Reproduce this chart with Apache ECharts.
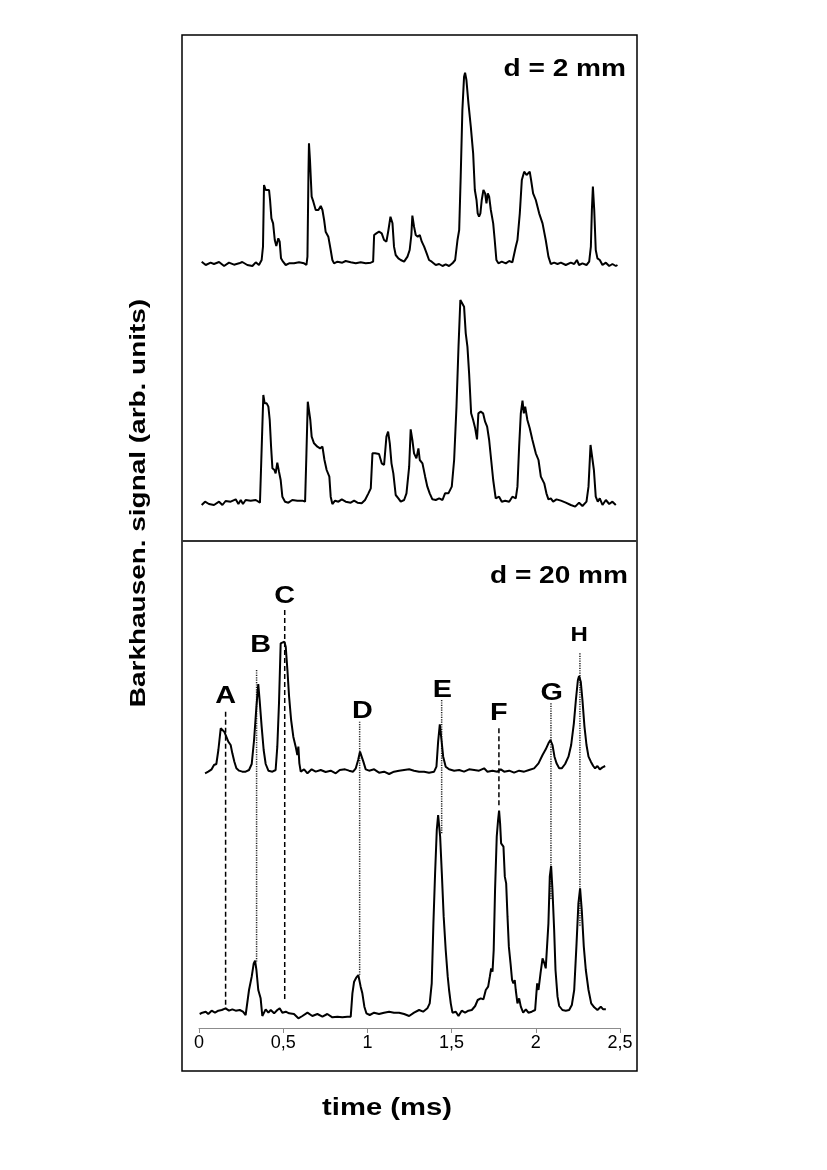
<!DOCTYPE html>
<html>
<head>
<meta charset="utf-8">
<script src="https://cdn.jsdelivr.net/npm/echarts@6/dist/echarts.min.js"></script>
<style>
  html, body { margin: 0; padding: 0; background: #fff; }
  #chart { width: 827px; height: 1170px; }
</style>
</head>
<body>
<div id="chart"></div>
<script>
// d = 2 mm, upper trace (time in ms, signal in arb. units)
const time1 = [0.016,0.040,0.069,0.089,0.119,0.149,0.178,0.208,0.238,0.257,0.287,0.317,0.337,0.356,0.372,0.380,0.386,0.396,0.406,0.416,0.422,0.430,0.440,0.450,0.459,0.471,0.479,0.487,0.499,0.515,0.535,0.564,0.594,0.624,0.638,0.644,0.650,0.653,0.659,0.669,0.679,0.693,0.709,0.723,0.733,0.743,0.752,0.768,0.782,0.792,0.802,0.822,0.851,0.871,0.901,0.931,0.960,0.990,1.020,1.034,1.040,1.053,1.069,1.085,1.099,1.113,1.125,1.137,1.149,1.158,1.168,1.184,1.198,1.218,1.238,1.251,1.261,1.267,1.277,1.287,1.299,1.311,1.323,1.337,1.352,1.366,1.382,1.406,1.426,1.446,1.465,1.485,1.505,1.521,1.535,1.545,1.554,1.564,1.574,1.580,1.588,1.600,1.614,1.628,1.638,1.648,1.655,1.663,1.671,1.679,1.689,1.699,1.707,1.715,1.723,1.733,1.747,1.756,1.766,1.778,1.798,1.822,1.842,1.861,1.881,1.891,1.905,1.917,1.931,1.945,1.956,1.964,1.972,1.984,2.000,2.020,2.040,2.059,2.075,2.089,2.109,2.129,2.149,2.178,2.208,2.228,2.244,2.257,2.277,2.301,2.317,2.327,2.333,2.339,2.347,2.356,2.366,2.380,2.396,2.416,2.436,2.455,2.475,2.485];
const signal1 = [5,-5,2,-2,4,-8,2,-4,0,4,-5,-8,3,-5,10,50,235,220,225,220,190,135,120,70,52,75,65,15,5,-5,0,0,3,0,-5,20,270,360,310,200,185,160,160,172,160,130,95,80,40,10,0,5,2,7,3,0,3,0,2,5,85,90,95,90,70,65,100,140,120,50,25,15,10,5,20,40,85,143,110,85,80,85,65,50,30,10,5,-5,-2,-8,-3,-8,0,10,70,100,260,460,560,572,550,480,410,330,220,190,150,140,150,190,220,210,180,210,200,160,120,70,10,0,5,0,7,3,50,70,150,250,275,265,265,275,250,210,190,150,120,70,20,-2,2,-2,2,-5,2,-2,10,-5,0,-5,5,50,160,230,160,40,15,10,-5,2,-8,-2,-8,-5];

// d = 2 mm, lower trace
const time2 = [0.016,0.036,0.059,0.089,0.119,0.139,0.158,0.188,0.218,0.234,0.248,0.261,0.277,0.307,0.337,0.362,0.370,0.382,0.390,0.402,0.412,0.420,0.428,0.436,0.448,0.455,0.465,0.475,0.485,0.495,0.511,0.531,0.554,0.584,0.614,0.630,0.638,0.646,0.653,0.661,0.669,0.683,0.703,0.719,0.733,0.745,0.758,0.774,0.782,0.792,0.808,0.828,0.848,0.871,0.901,0.921,0.941,0.966,0.986,1.006,1.020,1.030,1.046,1.069,1.085,1.099,1.113,1.123,1.133,1.143,1.154,1.168,1.184,1.198,1.218,1.232,1.248,1.257,1.267,1.277,1.291,1.303,1.311,1.327,1.343,1.356,1.370,1.386,1.406,1.426,1.446,1.461,1.481,1.501,1.515,1.529,1.541,1.552,1.560,1.574,1.584,1.594,1.604,1.616,1.628,1.640,1.651,1.659,1.673,1.687,1.699,1.711,1.723,1.735,1.747,1.762,1.782,1.798,1.818,1.842,1.861,1.881,1.891,1.901,1.911,1.921,1.929,1.937,1.950,1.964,1.980,2.000,2.016,2.030,2.050,2.063,2.075,2.089,2.103,2.123,2.149,2.178,2.208,2.234,2.257,2.277,2.301,2.313,2.325,2.333,2.345,2.356,2.368,2.380,2.396,2.416,2.436,2.455,2.475];
const signal2 = [-7,3,-4,-7,3,-7,5,3,10,-4,8,-4,8,6,8,0,128,323,298,298,288,248,168,103,98,88,120,93,68,18,3,0,8,6,6,3,148,303,303,248,198,178,168,163,168,128,98,78,18,-4,6,3,10,3,0,6,0,-2,8,28,43,148,148,146,118,113,198,213,178,118,88,23,13,3,8,28,108,220,188,148,133,163,128,118,78,48,28,10,8,13,8,28,28,48,128,288,468,608,610,588,508,468,388,268,248,223,190,268,273,268,243,228,188,128,68,13,18,3,6,3,18,13,48,168,268,306,268,288,248,223,188,148,128,78,58,28,10,13,3,10,6,0,-7,-12,0,-10,3,48,173,168,98,18,3,13,-7,8,-4,3,-7];

// d = 20 mm, upper trace
const time3 = [0.036,0.055,0.075,0.089,0.103,0.115,0.129,0.139,0.150,0.162,0.174,0.188,0.198,0.210,0.222,0.238,0.257,0.277,0.297,0.313,0.327,0.341,0.352,0.360,0.372,0.384,0.396,0.412,0.436,0.455,0.465,0.475,0.485,0.495,0.507,0.515,0.525,0.535,0.547,0.560,0.574,0.584,0.590,0.596,0.604,0.624,0.644,0.669,0.693,0.723,0.752,0.782,0.812,0.836,0.867,0.891,0.915,0.931,0.945,0.956,0.966,0.976,0.990,1.010,1.040,1.069,1.099,1.129,1.158,1.188,1.218,1.248,1.277,1.307,1.337,1.366,1.396,1.410,1.420,1.430,1.440,1.450,1.465,1.485,1.515,1.545,1.574,1.604,1.634,1.663,1.693,1.713,1.743,1.772,1.792,1.812,1.842,1.871,1.901,1.931,1.960,1.990,2.016,2.040,2.059,2.075,2.087,2.099,2.111,2.123,2.139,2.154,2.174,2.194,2.210,2.226,2.238,2.250,2.257,2.267,2.277,2.289,2.301,2.313,2.327,2.341,2.352,2.366,2.380,2.396,2.412];
const signal3 = [-8,-3,4,17,20,62,127,122,117,102,87,77,52,27,7,0,-3,-3,2,20,92,192,260,212,132,62,20,0,-3,2,72,202,382,377,387,372,302,222,152,102,72,47,72,22,-3,4,-8,4,-3,2,-4,0,-8,2,4,0,-3,7,32,57,52,27,4,0,4,-6,-3,-10,-3,0,2,4,0,-3,-3,-6,-3,12,87,139,92,42,12,4,0,2,-3,4,2,0,7,-3,0,-3,4,-3,0,-6,0,-3,2,7,22,47,64,82,92,77,42,22,7,7,20,42,77,142,212,272,284,267,212,132,77,42,27,14,7,14,4,10,14];

// d = 20 mm, lower trace
const time4 = [0.004,0.020,0.040,0.055,0.075,0.095,0.115,0.135,0.158,0.178,0.198,0.218,0.242,0.261,0.277,0.287,0.297,0.313,0.325,0.333,0.341,0.352,0.366,0.376,0.396,0.412,0.426,0.446,0.465,0.479,0.495,0.515,0.535,0.564,0.590,0.614,0.644,0.673,0.703,0.733,0.762,0.792,0.822,0.851,0.881,0.901,0.911,0.921,0.935,0.946,0.960,0.970,0.982,0.994,1.014,1.040,1.069,1.099,1.129,1.158,1.188,1.218,1.248,1.277,1.307,1.331,1.356,1.370,1.382,1.392,1.402,1.412,1.420,1.426,1.432,1.442,1.453,1.465,1.477,1.485,1.495,1.505,1.525,1.541,1.560,1.580,1.600,1.620,1.640,1.655,1.673,1.689,1.703,1.717,1.727,1.735,1.743,1.750,1.758,1.768,1.776,1.782,1.788,1.794,1.802,1.808,1.816,1.824,1.832,1.840,1.850,1.859,1.867,1.875,1.881,1.891,1.901,1.911,1.925,1.941,1.956,1.976,1.996,2.008,2.016,2.028,2.040,2.051,2.059,2.075,2.083,2.091,2.099,2.109,2.117,2.129,2.139,2.158,2.178,2.198,2.214,2.228,2.242,2.253,2.263,2.273,2.285,2.297,2.313,2.329,2.347,2.366,2.386,2.400,2.416];
const signal4 = [-4,0,3,-4,6,0,6,8,13,6,10,6,8,3,-7,-12,68,108,148,156,128,68,43,-10,10,0,8,-2,8,13,0,3,-2,-4,-17,-10,0,-10,-4,-12,-4,-14,-12,-14,-12,-12,58,93,106,113,78,58,18,-2,-7,0,-4,0,3,0,0,-4,-10,0,8,3,13,28,88,268,418,548,593,588,528,418,288,188,108,68,28,0,3,-10,6,0,6,8,20,38,43,40,68,78,108,133,123,188,368,528,578,606,568,508,513,498,408,388,288,198,148,98,88,98,68,28,43,18,0,10,0,3,8,88,68,118,163,148,133,268,408,440,368,248,128,48,20,8,6,8,23,68,208,328,373,308,198,128,68,28,16,8,18,10,10];

// x axis ticks
const tickValues = [0, 0.5, 1, 1.5, 2, 2.5];

// reference markers linking the d = 20 mm traces
const markerNames = ['A', 'B', 'C', 'D', 'E', 'F', 'G', 'H'];
const markerTimes = [0.158, 0.342, 0.509, 0.954, 1.441, 1.781, 2.090, 2.262];
const markerTop = [177, 302, 482, 147, 212, 127, 202, 352];     // level on upper trace
const markerBottom = [13, 153, 33, 113, 538, 618, 338, 258];    // level on lower trace
const markerKind = ['dashed', 'dotted', 'dashed', 'dotted', 'dotted', 'dashed', 'dotted', 'dotted'];
const labelTimes = [0.158, 0.366, 0.508, 0.970, 1.445, 1.781, 2.094, 2.257];
const labelLevels = [222, 377, 522, 177, 242, 172, 232, 407];

const FONT = '"Liberation Sans", Arial, sans-serif';

function pairs(t, s) {
  return t.map((x, i) => [x, s[i]]);
}

// the bold lettering of the figure is wider than Arial, so stretch it a bit
function boldText(text, x, y, size, align, wide, extra) {
  return Object.assign({
    type: 'text', x: x, y: y, scaleX: wide,
    style: { text: text, font: 'bold ' + size + 'px ' + FONT, fill: '#000', align: align, verticalAlign: 'middle' }
  }, extra || {});
}

const chart = echarts.init(document.getElementById('chart'));

const grids = [
  { left: 199, width: 421, top: 40, height: 250 },
  { left: 199, width: 421, top: 290, height: 250 },
  { left: 199, width: 421, top: 545, height: 250 },
  { left: 199, width: 421, top: 795, height: 233 }
];
const yRanges = [[-80, 670], [-112, 638], [-73, 677], [-46, 653]];
const traces = [pairs(time1, signal1), pairs(time2, signal2), pairs(time3, signal3), pairs(time4, signal4)];

const option = {
  animation: false,
  grid: grids,
  xAxis: grids.map((g, i) => ({
    type: 'value',
    gridIndex: i,
    min: 0,
    max: 2.5,
    interval: 0.5,
    show: i === 3,
    splitLine: { show: false },
    axisLine: { show: true, onZero: false, lineStyle: { color: '#8c8c8c', width: 1 } },
    axisTick: { show: true, length: 5, lineStyle: { color: '#8c8c8c' } },
    axisLabel: {
      color: '#000',
      fontSize: 18,
      fontFamily: FONT,
      margin: 6,
      formatter: v => tickValues.includes(v) ? String(v).replace('.', ',') : ''
    }
  })),
  yAxis: yRanges.map((r, i) => ({
    type: 'value',
    gridIndex: i,
    min: r[0],
    max: r[1],
    show: false
  })),
  series: traces.map((d, i) => ({
    type: 'line',
    xAxisIndex: i,
    yAxisIndex: i,
    data: d,
    showSymbol: false,
    lineStyle: { color: '#000', width: 2 },
    silent: true
  }))
};

chart.setOption(option);

const graphics = [
  { type: 'rect', shape: { x: 182, y: 35, width: 455, height: 1036 },
    style: { fill: 'none', stroke: '#000', lineWidth: 1.5 } },
  { type: 'line', shape: { x1: 182, y1: 541, x2: 637, y2: 541 },
    style: { stroke: '#333', lineWidth: 2 } },
  boldText('d = 2 mm', 626, 70, 23, 'right', 1.22),
  boldText('d = 20 mm', 628, 577, 23, 'right', 1.22),
  boldText('time (ms)', 387, 1109, 23, 'center', 1.27),
  boldText('Barkhausen. signal (arb. units)', 139, 503, 22, 'center', 1.27, { rotation: Math.PI / 2 })
];

markerNames.forEach((name, i) => {
  const top = chart.convertToPixel({ gridIndex: 2 }, [markerTimes[i], markerTop[i]]);
  const bottom = chart.convertToPixel({ gridIndex: 3 }, [markerTimes[i], markerBottom[i]]);
  const dashed = markerKind[i] === 'dashed';
  graphics.push({
    type: 'line',
    shape: { x1: top[0], y1: top[1], x2: bottom[0], y2: bottom[1] },
    style: { stroke: dashed ? '#000' : '#222', lineWidth: 1.5, lineDash: dashed ? [5, 3] : [1.2, 1.2] }
  });
  const lab = chart.convertToPixel({ gridIndex: 2 }, [labelTimes[i], labelLevels[i]]);
  graphics.push(boldText(name, lab[0], lab[1], name === 'H' ? 20 : 24, 'center', 1.2));
});

chart.setOption({ graphic: graphics });
</script>
</body>
</html>
